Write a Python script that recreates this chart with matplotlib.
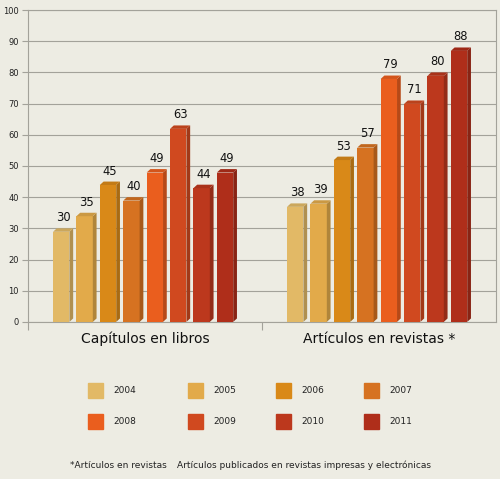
import matplotlib.pyplot as plt
from matplotlib.patches import Rectangle
import numpy as np

# data
categories = ['Capítulos en libros', 'Artículos en revistas *']
years = ['2004', '2005', '2006', '2007', '2008', '2009', '2010', '2011']
capitulos = [30, 35, 45, 40, 49, 63, 44, 49]
articulos = [38, 39, 53, 57, 79, 71, 80, 88]
colors = ['#E2B966', '#E2AA4A', '#D98918', '#D67221',
          '#EA5E1E', '#D0491F', '#BC381D', '#AF2E1A']
footnote_key = '*Artículos en revistas'
footnote_text = 'Artículos publicados en revistas impresas y electrónicas'

BG = '#EDECE3'
GRID = '#A3A29A'
PITCH = 0.1
FRONT_W = 0.07
DEPTH_X = 0.016
DEPTH_Y = 1.1


def shade(color, factor):
    rgb = np.array(plt.matplotlib.colors.to_rgb(color))
    return tuple(np.clip(rgb * factor, 0, 1))


def draw_bar(ax, x, value, color):
    top = value - DEPTH_Y
    ax.bar(x, top, width=FRONT_W, align='edge', color=color, zorder=3)
    # side face
    ax.fill([x + FRONT_W, x + FRONT_W + DEPTH_X, x + FRONT_W + DEPTH_X, x + FRONT_W],
            [0, DEPTH_Y, top + DEPTH_Y, top],
            color=shade(color, 0.78), lw=0, zorder=3)
    # top face
    ax.fill([x, x + FRONT_W, x + FRONT_W + DEPTH_X, x + DEPTH_X],
            [top, top, top + DEPTH_Y, top + DEPTH_Y],
            color=shade(color, 0.9), lw=0, zorder=3)
    ax.text(x + (FRONT_W + DEPTH_X) / 2, value + 1.3, f'{value}',
            ha='center', va='bottom', fontsize=8.3, color='#111111')


fig = plt.figure(figsize=(5, 4.79), dpi=100, facecolor=BG)
ax = fig.add_axes([0.056, 0.328, 0.936, 0.651])
ax.set_facecolor(BG)

for c, series in enumerate([capitulos, articulos]):
    start = c - 0.393
    for i, value in enumerate(series):
        draw_bar(ax, start + PITCH * i, value, colors[i])

ax.set_xlim(-0.5, 1.5)
ax.set_ylim(0, 100)
ax.set_yticks(np.arange(0, 101, 10))
ax.yaxis.grid(True, color=GRID, lw=0.8, zorder=1)
ax.tick_params(axis='y', length=4.5, color=GRID, width=0.8, labelsize=6,
               pad=2, labelcolor='#222222')

ax.set_xticks([0, 1])
ax.set_xticklabels(categories, fontsize=10, color='#111111')
ax.set_xticks([-0.5, 0.5], minor=True)
ax.tick_params(axis='x', which='major', length=0, pad=7)
ax.tick_params(axis='x', which='minor', length=6, color=GRID, width=0.8)

for side in ['left', 'right', 'top', 'bottom']:
    ax.spines[side].set_color(GRID)
    ax.spines[side].set_linewidth(0.8)

# legend, laid out by hand as in the reference
W, H = 500, 479
col_x = [88, 188, 276, 364]
row_y = [390.5, 421.5]
for i, (year, color) in enumerate(zip(years, colors)):
    x = col_x[i % 4]
    y = row_y[i // 4]
    fig.add_artist(Rectangle((x / W, 1 - (y + 7.5) / H), 15 / W, 15 / H,
                             transform=fig.transFigure, color=color))
    fig.text((x + 25) / W, 1 - y / H, year, fontsize=6.5, va='center',
             color='#222222')

fig.text(70 / W, 1 - 465 / H, footnote_key, fontsize=6.5, va='center',
         color='#222222')
fig.text(177 / W, 1 - 465 / H, footnote_text, fontsize=6.5, va='center',
         color='#222222')

fig.savefig('out.png', dpi=100, facecolor=BG)
